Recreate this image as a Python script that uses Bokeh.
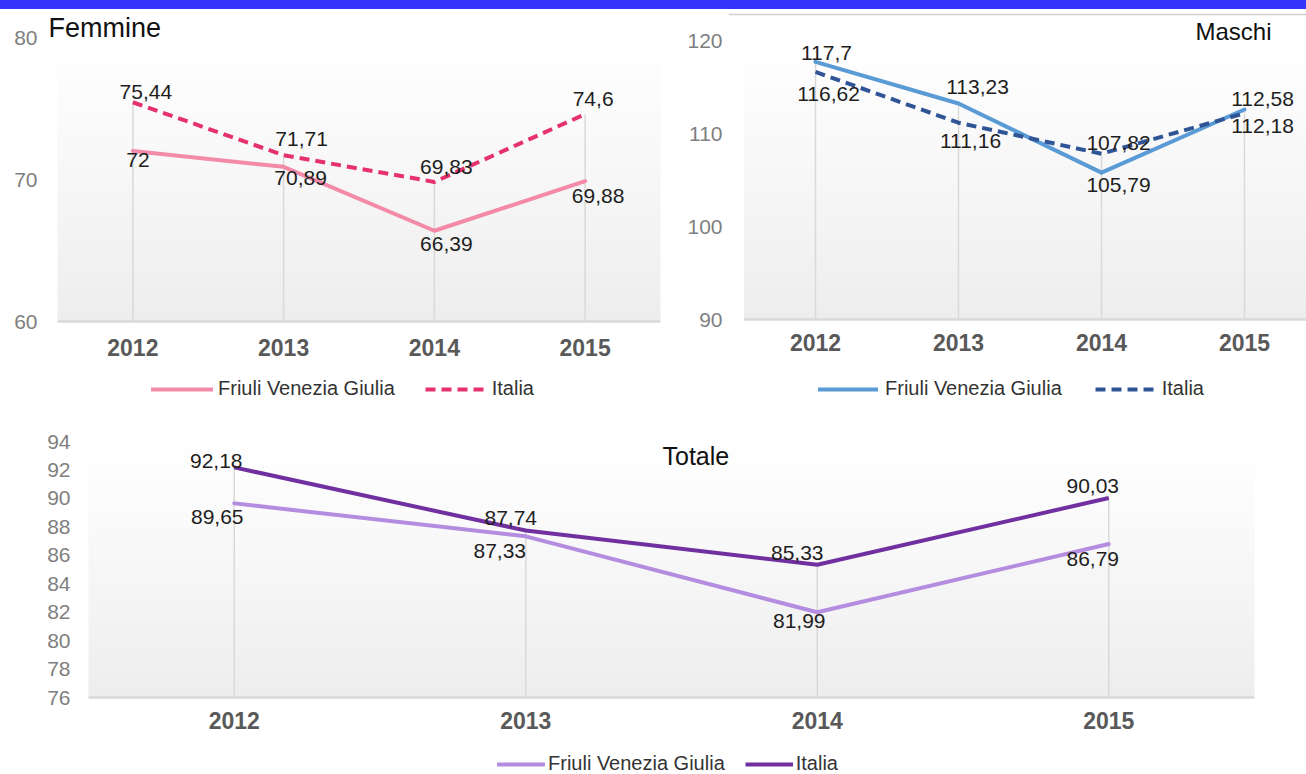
import numpy as np
from bokeh.plotting import figure
from bokeh.models import FixedTicker, Legend, LegendItem, Label, Div, Span
from bokeh.layouts import column, row
from bokeh.embed import file_html
from bokeh.resources import INLINE
from bokeh.core.properties import value

# ---------------- data ----------------
years = ["2012", "2013", "2014", "2015"]
series_names = ["Friuli Venezia Giulia", "Italia"]

fem_fvg = [72, 70.89, 66.39, 69.88]
fem_ita = [75.44, 71.71, 69.83, 74.6]
fem_ticks = [60, 70, 80]

mas_fvg = [117.7, 113.23, 105.79, 112.58]
mas_ita = [116.62, 111.16, 107.82, 112.18]
mas_ticks = [90, 100, 110, 120]

tot_fvg = [89.65, 87.33, 81.99, 86.79]
tot_ita = [92.18, 87.74, 85.33, 90.03]
tot_ticks = [76, 78, 80, 82, 84, 86, 88, 90, 92, 94]

# ---------------- label offsets (screen px) ----------------
fem_off_fvg = [(5, 9), (17, 11), (12, 13), (13, 15)]
fem_off_ita = [(13, -10), (18, -16), (12, -15), (8, -15)]
mas_off_fvg = [(11, -9), (19, -16), (17, 12), (18, -11)]
mas_off_ita = [(13, 22), (12, 18), (17, -11), (18, 13)]
tot_off_fvg = [(-17, 14), (-26, 15), (-18, 9), (-16, 15)]
tot_off_ita = [(-18, -6), (-15, -13), (-20, -12), (-16, -12)]

FONT = "Liberation Sans"


def fmt(v):
    return f"{v:g}".replace(".", ",")


def panel(fig, frame_left, plot_x, plot_y, ticks, fvg, ita, colors, dashes,
          offs, title, title_px, title_size, legend_px, leg_glyph_w, leg_standoff,
          leg_spacing, ylab_size, xlab_size, xlab_standoff, ylab_standoff):
    fx0, fy0, fw, fh = fig                 # figure box on the page
    px0, px1 = plot_x                      # page x of data -0.5 and 3.5
    py_top, py_bot = plot_y                # page y of ticks[-1] and ticks[0]
    ymin, ymax = ticks[0], ticks[-1]
    n = len(years)
    kx = (px1 - px0) / n
    ky = (py_bot - py_top) / (ymax - ymin)
    x_start = -0.5 - (px0 - frame_left) / kx
    x_end = n - 0.5 + (fx0 + fw - px1) / kx
    y_end = ymax + (py_top - fy0) / ky
    y_start = ymin - (fy0 + fh - py_bot) / ky

    p = figure(width=fw, height=fh, output_backend="svg", toolbar_location=None,
               x_range=(x_start, x_end), y_range=(y_start, y_end),
               min_border_left=frame_left - fx0, min_border_right=0,
               min_border_top=0, min_border_bottom=0)
    p.outline_line_color = None
    p.xgrid.visible = False
    p.ygrid.visible = False
    p.background_fill_color = "white"
    p.border_fill_color = "white"

    xs = list(range(n))
    xr = min(n - 0.5, x_end)

    # vertical gradient in plot area
    m = 128
    img = np.empty((m, 1), dtype=np.uint32)
    view = img.view(dtype=np.uint8).reshape((m, 1, 4))
    for i in range(m):
        g = int(round(237 + (255 - 237) * (i / (m - 1)) ** 0.9))
        view[i, 0, :3] = g
        view[i, 0, 3] = 255
    p.image_rgba(image=[img], x=-0.5, y=ymin, dw=xr + 0.5, dh=ymax - ymin, level="image")

    # drop lines and baseline
    tops = [max(a, b) for a, b in zip(fvg, ita)]
    p.segment(x0=xs, y0=[ymin] * n, x1=xs, y1=tops, line_color="#d9d9d9", line_width=1.5)
    p.segment(x0=[-0.5], y0=[ymin], x1=[xr], y1=[ymin], line_color="#d9d9d9", line_width=2.5)

    r_fvg = p.line(xs, fvg, line_color=colors[0], line_width=4, line_dash=dashes[0],
                   line_join="round", line_cap="round")
    r_ita = p.line(xs, ita, line_color=colors[1], line_width=4, line_dash=dashes[1],
                   line_join="round")

    for vals, off in zip((fvg, ita), offs):
        p.text(x=xs, y=vals, text=[fmt(v) for v in vals],
               x_offset=[o[0] for o in off], y_offset=[o[1] for o in off],
               text_align="center", text_baseline="middle",
               text_font=value(FONT), text_font_size="21px", text_color="#1e1e1e")

    # x axis inside the frame, at the baseline
    p.xaxis.fixed_location = ymin
    p.xaxis.ticker = FixedTicker(ticks=xs)
    p.xaxis.major_label_overrides = {i: y for i, y in enumerate(years)}
    p.xaxis.axis_line_color = None
    p.xaxis.major_tick_line_color = None
    p.xaxis.minor_tick_line_color = None
    p.xaxis.major_tick_in = 0
    p.xaxis.major_tick_out = 0
    p.xaxis.major_label_standoff = xlab_standoff
    p.xaxis.major_label_text_font = FONT
    p.xaxis.major_label_text_font_size = xlab_size
    p.xaxis.major_label_text_font_style = "bold"
    p.xaxis.major_label_text_color = "#595959"

    p.yaxis.ticker = FixedTicker(ticks=ticks)
    p.yaxis.axis_line_color = None
    p.yaxis.major_tick_line_color = None
    p.yaxis.minor_tick_line_color = None
    p.yaxis.major_tick_in = 0
    p.yaxis.major_tick_out = 0
    p.yaxis.major_label_standoff = ylab_standoff
    p.yaxis.major_label_text_font = FONT
    p.yaxis.major_label_text_font_size = ylab_size
    p.yaxis.major_label_text_color = "#7f7f7f"

    bottom = fy0 + fh
    p.add_layout(Label(x=title_px[0] - frame_left, y=bottom - title_px[1],
                       x_units="screen", y_units="screen",
                       text=title, text_font=FONT, text_font_size=title_size,
                       text_color="#111111", text_baseline="middle"))

    leg = Legend(items=[LegendItem(label=series_names[0], renderers=[r_fvg]),
                        LegendItem(label=series_names[1], renderers=[r_ita])],
                 location=(legend_px[0] - frame_left, bottom - legend_px[1]),
                 orientation="horizontal",
                 padding=0, margin=0, spacing=leg_spacing,
                 glyph_width=leg_glyph_w, glyph_height=20, label_height=20,
                 label_standoff=leg_standoff,
                 label_text_font=FONT, label_text_font_size="20px",
                 label_text_color="#333333",
                 background_fill_alpha=0, border_line_color=None)
    p.add_layout(leg)
    return p


# figures laid out on a 1306 x 774 page: bar 0-9, top row 9-418, bottom 418-774
fem = panel((0, 9, 670, 409), 44, (57, 660), (37, 321), fem_ticks, fem_fvg, fem_ita,
            ("#f28aa8", "#e5326c"), ("solid", "10 6"), (fem_off_fvg, fem_off_ita),
            "Femmine", (48, 27), "27px", (151, 400), 62, 5, 30, "21px", "23px", 17, 7)

mas = panel((670, 9, 636, 409), 728, (743.5, 1315.5), (40, 319), mas_ticks, mas_fvg, mas_ita,
            ("#5b9bd5", "#2f5597"), ("solid", "10 6"), (mas_off_fvg, mas_off_ita),
            "Maschi", (1195, 31), "24px", (818, 400), 60, 7, 33, "21px", "23px", 14, 6)
mas.add_layout(Span(location=mas.y_range.end - (14 - 9) * (120 - 90) / (319 - 40),
                    dimension="width", line_color="#d0d0d0", line_width=1.5))

tot = panel((0, 418, 1306, 356), 76, (88, 1254), (441, 697), tot_ticks, tot_fvg, tot_ita,
            ("#b48de0", "#7030a0"), ("solid", "solid"), (tot_off_fvg, tot_off_ita),
            "Totale", (662, 455), "25px", (497, 775), 48, 3, 20, "21px", "23px", 14, 6)

bar = Div(width=1306, height=9, margin=0, styles={"background-color": "#3434fb",
                                                   "padding": "0px", "margin": "0px"})

layout = column(bar, row(fem, mas), tot)

open("out.html", "w").write(file_html(layout, INLINE))
